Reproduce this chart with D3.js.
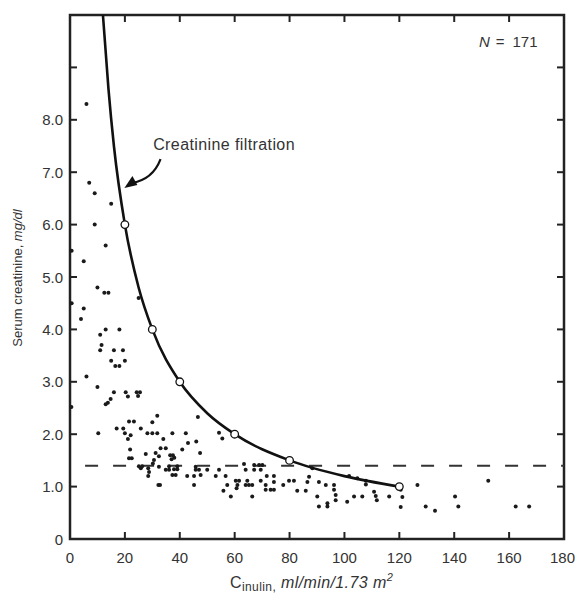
<!DOCTYPE html>
<html>
<head>
<meta charset="utf-8">
<title>Serum creatinine vs inulin clearance</title>
<script src="https://cdnjs.cloudflare.com/ajax/libs/d3/7.8.5/d3.min.js"></script>
<style>
	body { margin: 0; background: #fff; }
	svg text { font-family: "Liberation Sans", Arial, sans-serif; fill: #333; }
</style>
</head>
<body>
<svg id="chart" width="575" height="596"></svg>
<script>

	// patients: inulin clearance (ml/min/1.73 m2) and serum creatinine (mg/dl)
	var clearance = [
		6, 7, 9, 9, 15, 0.6, 13, 5, 10, 12.5, 14, 0.6, 5, 4, 13, 18, 11, 11.5, 11, 16,
		19.3, 15, 16.5, 18, 20, 6, 10, 16, 20.3, 21.1, 24.3, 25.5, 24.8, 14.8, 13.8, 13, 0.5, 31.8, 21.5, 23.3,
		30, 17, 19.4, 25.8, 10.3, 20, 22.1, 28.2, 30, 31.8, 37.3, 42.2, 21.1, 34, 43, 46, 21.9, 33, 34.9, 40.9,
		27.6, 31.2, 32.4, 36.5, 37.5, 37, 38, 21.5, 22.5, 30.6, 25.1, 26.3, 25.8, 28.5, 30.2, 28.8, 32.4, 34.9, 36.1, 37.9,
		39.1, 36.1, 39.1, 37.3, 38.5, 28.5, 42.7, 45.2, 45.8, 45.8, 32.2, 32.8, 45.2, 46.6, 47.4, 54.3, 55.5, 47, 50, 54.3,
		63.4, 64, 67.1, 68.9, 70.1, 67.1, 69.5, 47.6, 53.1, 56.7, 60.4, 61.6, 64.6, 69.5, 71.7, 74.3, 74.3, 57.3, 61, 64,
		65.2, 66.4, 71.3, 77.7, 79.8, 81.6, 71.3, 73.1, 74.3, 55.9, 60.7, 82.8, 85.9, 58.6, 66.4, 86.5, 88.3, 87.1, 90.7, 93.2,
		90.1, 90.7, 93.8, 93.8, 101.7, 104.7, 107.8, 107.8, 96.2, 96.2, 96.8, 96.8, 101, 103.5, 106.5, 110.8, 111.4, 111.8, 116.3, 120.5,
		121.1, 120.5, 126.6, 129.6, 133, 140.3, 141.5, 152.4, 162.4, 167.3, 25
	];
	var creatinine = [
		8.3, 6.8, 6.6, 6.0, 6.4, 5.5, 5.6, 5.3, 4.8, 4.7, 4.7, 4.5, 4.4, 4.2, 4.0, 4.0, 3.9, 3.7, 3.6, 3.6,
		3.6, 3.4, 3.3, 3.3, 3.4, 3.1, 2.9, 2.8, 2.8, 2.72, 2.8, 2.8, 2.73, 2.67, 2.6, 2.57, 2.52, 2.35, 2.24, 2.24,
		2.23, 2.11, 2.11, 2.11, 2.02, 2.02, 1.98, 2.02, 2.02, 2.02, 2.02, 2.02, 1.91, 1.91, 1.83, 1.86, 1.71, 1.73, 1.73, 1.71,
		1.62, 1.64, 1.58, 1.6, 1.6, 1.52, 1.55, 1.54, 1.54, 1.51, 1.39, 1.39, 1.35, 1.35, 1.44, 1.28, 1.38, 1.32, 1.32, 1.33,
		1.33, 1.39, 1.39, 1.22, 1.22, 1.2, 1.2, 1.2, 1.38, 1.32, 1.03, 1.03, 1.03, 2.33, 1.64, 2.03, 1.92, 1.32, 1.32, 1.32,
		1.43, 1.32, 1.41, 1.41, 1.41, 1.32, 1.32, 1.22, 1.2, 1.2, 1.11, 1.11, 1.11, 1.11, 1.2, 1.2, 1.09, 1.03, 1.03, 1.03,
		1.03, 1.03, 1.03, 1.03, 1.11, 1.11, 0.94, 0.94, 0.94, 0.92, 0.97, 0.92, 0.92, 0.81, 0.81, 1.09, 1.35, 1.19, 1.09, 1.03,
		0.81, 0.62, 0.68, 0.62, 1.2, 1.16, 1.11, 1.04, 1.03, 0.94, 0.84, 0.74, 0.71, 0.81, 0.81, 0.9, 0.82, 0.74, 0.81, 0.94,
		0.8, 0.61, 1.03, 0.62, 0.54, 0.81, 0.62, 1.11, 0.62, 0.62, 4.6
	];

	// creatinine filtration curve
	var curveX = [12, 14, 16, 20, 25, 30, 40, 50, 60, 80, 100, 120];
	var curveY = [10, 8.6, 7.5, 6.0, 4.8, 4.0, 3.0, 2.4, 2.0, 1.5, 1.2, 1.0];
	// open circles on the curve
	var markX = [20, 30, 40, 60, 80, 120];
	var markY = [6.0, 4.0, 3.0, 2.0, 1.5, 1.0];

	var limitY = 1.4;
	var limitStart = 5.5;

	var xTicks = [0, 20, 40, 60, 80, 100, 120, 140, 160, 180];
	var yTicks = [0, 1, 2, 3, 4, 5, 6, 7, 8];
	var yTickLabels = ["0", "1.0", "2.0", "3.0", "4.0", "5.0", "6.0", "7.0", "8.0"];
	var innerX = [20, 40, 60, 80, 100, 120, 140, 160];
	var innerY = [1, 2, 3, 4, 5, 6, 7, 8, 9];

	var svg = d3.select("#chart"),
	    margin = {top: 15, right: 11, bottom: 57, left: 70},
	    width = +svg.attr("width") - margin.left - margin.right,
	    height = +svg.attr("height") - margin.top - margin.bottom,
	    g = svg.append("g").attr("transform", "translate(" + margin.left + "," + margin.top + ")");

	var x = d3.scaleLinear().domain([0, 180]).range([0, width]);
	var y = d3.scaleLinear().domain([0, 10]).range([height, 0]);

	var tickLen = 7;

	// inward ticks on all four sides
	g.selectAll(".tb").data(innerX).enter().append("line")
	    .attr("x1", function(d) { return x(d); }).attr("x2", function(d) { return x(d); })
	    .attr("y1", height).attr("y2", height - tickLen)
	    .attr("stroke", "#222").attr("stroke-width", 2);
	g.selectAll(".tt").data(innerX).enter().append("line")
	    .attr("x1", function(d) { return x(d); }).attr("x2", function(d) { return x(d); })
	    .attr("y1", 0).attr("y2", tickLen)
	    .attr("stroke", "#222").attr("stroke-width", 2);
	g.selectAll(".tl").data(innerY).enter().append("line")
	    .attr("x1", 0).attr("x2", tickLen)
	    .attr("y1", function(d) { return y(d); }).attr("y2", function(d) { return y(d); })
	    .attr("stroke", "#222").attr("stroke-width", 2);
	g.selectAll(".tr").data(innerY).enter().append("line")
	    .attr("x1", width).attr("x2", width - tickLen)
	    .attr("y1", function(d) { return y(d); }).attr("y2", function(d) { return y(d); })
	    .attr("stroke", "#222").attr("stroke-width", 2);

	// frame
	g.append("rect")
	    .attr("x", x(0)).attr("y", y(10))
	    .attr("width", x(180) - x(0)).attr("height", y(0) - y(10))
	    .attr("fill", "none").attr("stroke", "#222").attr("stroke-width", 2.5);

	// tick labels (last one pulled in so it stays on the page)
	g.selectAll(".xl").data(xTicks).enter().append("text")
	    .attr("x", function(d) { return d === 180 ? x(d) + 11 : x(d); })
	    .attr("y", height + 24)
	    .attr("text-anchor", function(d) { return d === 180 ? "end" : "middle"; })
	    .style("font-size", "15px")
	    .text(function(d) { return d; });
	g.selectAll(".yl").data(yTicks).enter().append("text")
	    .attr("x", -7)
	    .attr("y", function(d) { return y(d) + 5.5; })
	    .attr("text-anchor", "end")
	    .style("font-size", "15px")
	    .text(function(d, i) { return yTickLabels[i]; });

	// dashed reference line
	g.append("line")
	    .attr("x1", x(limitStart)).attr("x2", x(180))
	    .attr("y1", y(limitY)).attr("y2", y(limitY))
	    .attr("stroke", "#333").attr("stroke-width", 2)
	    .attr("stroke-dasharray", "13,15");

	// scatter
	g.selectAll(".pt").data(clearance).enter().append("circle")
	    .attr("cx", function(d) { return x(d); })
	    .attr("cy", function(d, i) { return y(creatinine[i]); })
	    .attr("r", 2)
	    .attr("fill", "#1a1a1a");

	// filtration curve
	var line = d3.line()
	    .x(function(d, i) { return x(d); })
	    .y(function(d, i) { return y(curveY[i]); })
	    .curve(d3.curveMonotoneX);

	g.append("path")
	    .datum(curveX)
	    .attr("fill", "none")
	    .attr("stroke", "#111")
	    .attr("stroke-width", 2.6)
	    .attr("d", line);

	g.selectAll(".mk").data(markX).enter().append("circle")
	    .attr("cx", function(d) { return x(d); })
	    .attr("cy", function(d, i) { return y(markY[i]); })
	    .attr("r", 3.8)
	    .attr("fill", "#fff")
	    .attr("stroke", "#111")
	    .attr("stroke-width", 1.3);

	// annotation
	var tipX = x(18) + 5, tipY = y(6.7);
	var tailX = x(33), tailY = y(7.25);
	g.append("path")
	    .attr("d", "M" + tailX + "," + tailY + " Q" + (tailX - 8) + "," + (tipY - 8) + " " + (tipX + 7) + "," + (tipY - 5))
	    .attr("fill", "none").attr("stroke", "#111").attr("stroke-width", 2.2);
	g.append("path")
	    .attr("d", "M" + tipX + "," + tipY + " L" + (tipX + 8) + "," + (tipY - 12) + " L" + (tipX + 13) + "," + (tipY - 3) + " Z")
	    .attr("fill", "#111");
	g.append("text")
	    .attr("x", x(30.3)).attr("y", y(7.42))
	    .style("font-size", "16px")
	    .style("letter-spacing", "0.4px")
	    .text("Creatinine filtration");

	var nText = g.append("text")
	    .attr("x", x(149)).attr("y", y(9.38))
	    .style("font-size", "15px");
	nText.append("tspan").style("font-style", "italic").text("N");
	nText.append("tspan").attr("dx", 6).text("=");
	nText.append("tspan").attr("dx", 8).text("171");

	// axis titles
	var yt = svg.append("text")
	    .attr("transform", "translate(22,278) rotate(-90)")
	    .attr("text-anchor", "middle")
	    .style("font-size", "13px");
	yt.append("tspan").text("Serum creatinine, ");
	yt.append("tspan").style("font-style", "italic").text("mg/dl");

	var xt = svg.append("text")
	    .attr("x", 230).attr("y", 588)
	    .style("font-size", "16px")
	    .style("letter-spacing", "0.4px");
	xt.append("tspan").text("C");
	xt.append("tspan").attr("dy", 3).style("font-size", "12px").text("inulin,");
	xt.append("tspan").attr("dy", -3).style("font-style", "italic").text(" ml/min/1.73 m");
	xt.append("tspan").attr("dy", -7).style("font-size", "11px").style("font-style", "italic").text("2");

</script>
</body>
</html>
